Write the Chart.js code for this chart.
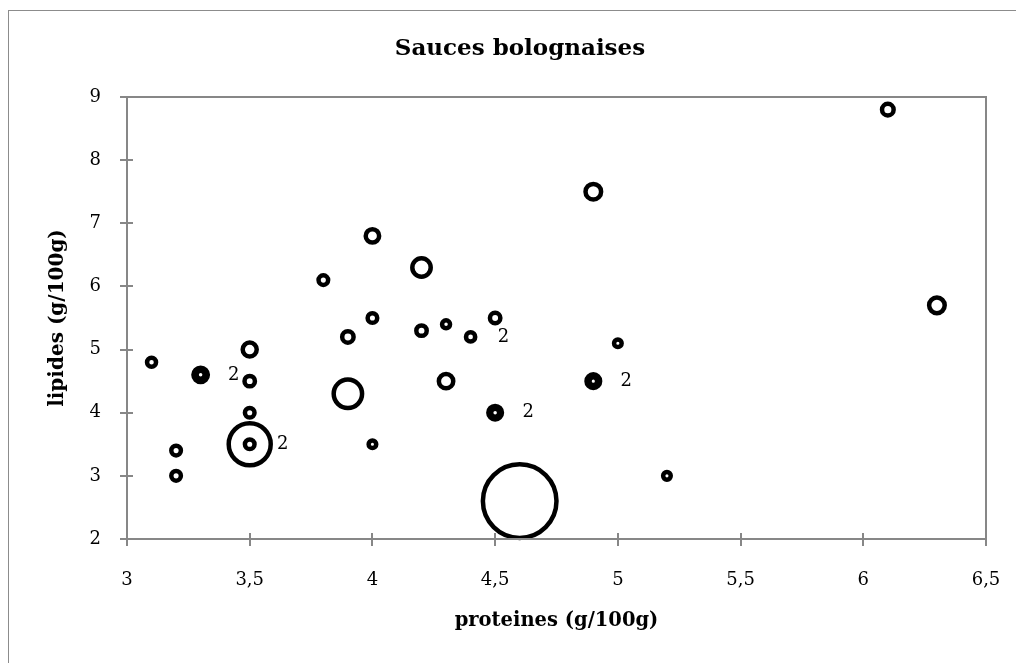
<!DOCTYPE html>
<html lang="fr">
<head>
<meta charset="utf-8">
<title>Sauces bolognaises</title>
<script src="https://cdn.jsdelivr.net/npm/chart.js@4.4.0/dist/chart.umd.min.js"></script>
<style>
  html, body { margin: 0; padding: 0; background: #fff; overflow: hidden; }
  #cadre {
    position: absolute; left: 8px; top: 10px; width: 1100px; height: 720px;
    border: 1px solid #8c8c8c; box-sizing: border-box;
  }
  #graphe { position: absolute; left: 0; top: 0; }
</style>
</head>
<body>
<div id="cadre"></div>
<canvas id="graphe" width="1016" height="663"></canvas>
<script>
// --- données ---
const proteines = [3.1, 3.2, 3.2, 3.3, 3.3, 3.5, 3.5, 3.5, 3.5, 3.5, 3.8, 3.9, 3.9, 4.0, 4.0, 4.0,
                   4.2, 4.2, 4.3, 4.3, 4.4, 4.5, 4.5, 4.5, 4.6, 4.9, 4.9, 4.9, 5.0, 5.2, 6.1, 6.3];
const lipides   = [4.8, 3.4, 3.0, 4.6, 4.6, 5.0, 4.5, 4.0, 3.5, 3.5, 6.1, 5.2, 4.3, 6.8, 5.5, 3.5,
                   6.3, 5.3, 5.4, 4.5, 5.2, 5.5, 4.0, 4.0, 2.6, 7.5, 4.5, 4.5, 5.1, 3.0, 8.8, 5.7];
// rayon des bulles (px)
const taille    = [4.5, 4.8, 4.8, 4.0, 7.2, 7.0, 5.2, 4.8, 4.8, 21, 4.8, 5.7, 14.2, 6.7, 4.8, 3.8,
                   9.2, 5.2, 4.0, 7.2, 4.6, 5.2, 4.0, 6.8, 36.8, 7.8, 3.8, 6.8, 3.8, 3.8, 5.8, 7.8];

// étiquettes "2" (produits en double)
const etiquetteX     = [3.3, 3.5, 4.4, 4.5, 4.9];
const etiquetteY     = [4.6, 3.5, 5.2, 4.0, 4.5];
const etiquetteTexte = ['2', '2', '2', '2', '2'];

const ticksX = ['3', '3,5', '4', '4,5', '5', '5,5', '6', '6,5'];
const ticksY = ['2', '3', '4', '5', '6', '7', '8', '9'];

const TITRE  = 'Sauces bolognaises';
const GRIS   = '#878787';
const POLICE = "'DejaVu Serif', 'Liberation Serif', serif";

const points = proteines.map((x, i) => ({ x: x, y: lipides[i], r: taille[i] }));

// titre, cadre du tracé, graduations croisées et étiquettes "2"
const decor = {
  id: 'decor',
  afterDatasetsDraw(chart) {
    const { ctx, chartArea: a, scales: { x, y } } = chart;
    ctx.save();
    ctx.strokeStyle = GRIS;
    ctx.lineWidth = 2;
    ctx.strokeRect(a.left, a.top, a.right - a.left, a.bottom - a.top);
    ctx.beginPath();
    x.ticks.forEach(t => {
      const px = Math.round(x.getPixelForValue(t.value));
      ctx.moveTo(px, a.bottom - 6); ctx.lineTo(px, a.bottom + 7);
    });
    y.ticks.forEach(t => {
      const py = Math.round(y.getPixelForValue(t.value));
      ctx.moveTo(a.left - 7, py); ctx.lineTo(a.left + 6, py);
    });
    ctx.stroke();

    ctx.fillStyle = '#000';
    ctx.textAlign = 'center';
    ctx.textBaseline = 'middle';
    ctx.font = 'bold 23px ' + POLICE;
    ctx.fillText(TITRE, 520, 49);

    ctx.font = '18px ' + POLICE;
    etiquetteTexte.forEach((txt, i) => {
      ctx.fillText(txt, x.getPixelForValue(etiquetteX[i]) + 33, y.getPixelForValue(etiquetteY[i]));
    });
    ctx.restore();
  }
};

new Chart(document.getElementById('graphe'), {
  type: 'bubble',
  data: {
    datasets: [{
      data: points,
      backgroundColor: 'rgba(0,0,0,0)',
      borderColor: '#000',
      borderWidth: 4.5,
      clip: false
    }]
  },
  options: {
    responsive: false,
    animation: false,
    events: [],
    layout: { autoPadding: false, padding: { top: 97, left: 0, right: 30, bottom: 0 } },
    plugins: {
      legend: { display: false },
      tooltip: { enabled: false },
      title: { display: false }
    },
    scales: {
      x: {
        type: 'linear', min: 3, max: 6.5,
        grid: { display: false, drawTicks: false },
        border: { display: false },
        ticks: {
          stepSize: 0.5, padding: 31, color: '#000', maxRotation: 0,
          font: { family: POLICE, size: 18 },
          callback: (v, i) => ticksX[i]
        },
        title: {
          display: true, text: 'proteines (g/100g)', color: '#000',
          font: { family: POLICE, size: 19.5, weight: 'bold', lineHeight: 1.2 },
          padding: { top: 0, bottom: 30 }
        },
        afterFit: s => { s.height = 124; s.paddingLeft = 0; s.paddingRight = 0; }
      },
      y: {
        type: 'linear', min: 2, max: 9,
        grid: { display: false, drawTicks: false },
        border: { display: false },
        ticks: {
          stepSize: 1, padding: 26, color: '#000',
          font: { family: POLICE, size: 18 },
          callback: (v, i) => ticksY[i]
        },
        title: {
          display: true, text: 'lipides (g/100g)', color: '#000',
          font: { family: POLICE, size: 20, weight: 'bold', lineHeight: 1.2 },
          padding: { top: 46, bottom: 0 }
        },
        afterFit: s => { s.width = 127; s.paddingTop = 0; s.paddingBottom = 0; }
      }
    }
  },
  plugins: [decor]
});
</script>
</body>
</html>
